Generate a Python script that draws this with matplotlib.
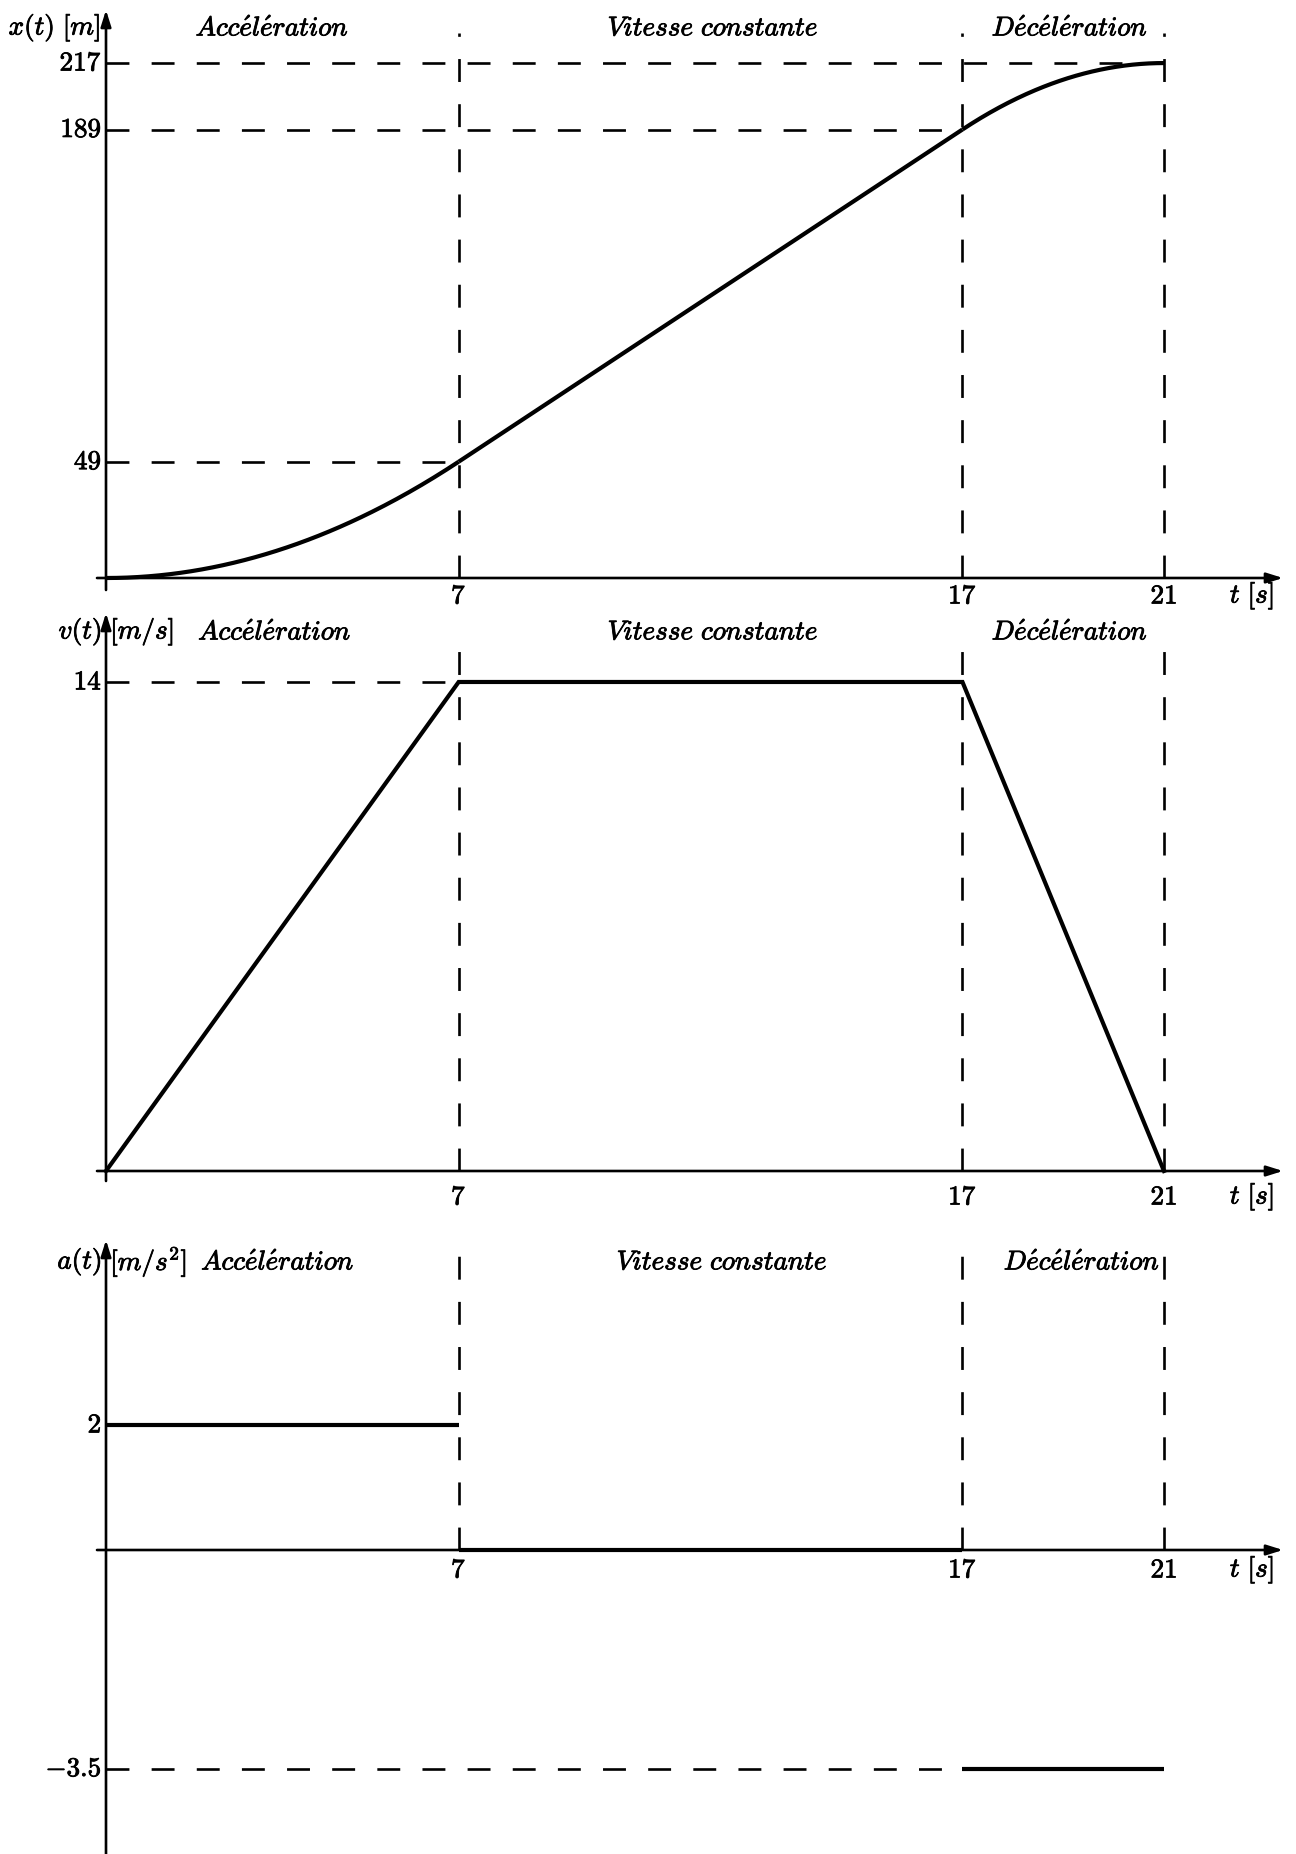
import numpy as np
import matplotlib
matplotlib.use("Agg")
import matplotlib.pyplot as plt
import matplotlib.patheffects as pe

plt.rcParams['mathtext.fontset'] = 'cm'
plt.rcParams['font.family'] = 'serif'
plt.rcParams['lines.scale_dashes'] = False

# phase boundaries [s] and the motion at each boundary
t_breaks = [0, 7, 17, 21]
x_breaks = [0, 49, 189, 217]
v_breaks = [0, 14, 14, 0]
a_phase = [2, 0, -3.5]

phase_names = [r'$\mathit{Acc\acute{e}l\acute{e}ration}$',
               r'$\mathit{Vitesse\ constante}$',
               r'$\mathit{D\acute{e}c\acute{e}l\acute{e}ration}$']
t_ticks = ['7', '17', '21']

W, H = 1296, 1854
X0, PX_T = 106, 50.38      # time axis origin and scale (pixels)

LW_AX = 1.9
LW_CURVE = 3.0
DASH = (0, (16.5, 16))
FS = 19.5
INK = [pe.withStroke(linewidth=0.6, foreground='k')]


def add_panel(top, bottom, origin, ppu):
	ax = plt.gcf().add_axes([0, 1 - bottom / H, 1, (bottom - top) / H])
	ax.set_xlim(-X0 / PX_T, (W - X0) / PX_T)
	ax.set_ylim((origin - bottom) / ppu, (origin - top) / ppu)
	ax.axis('off')
	return ax


def px_y(origin, ppu, y):
	return (origin - y) / ppu


def txt(ax, x, y, s, **kw):
	return ax.annotate(s, xy=(x, y), textcoords='offset points', fontsize=FS,
					   va='center', path_effects=INK, **kw)


def draw_axes(ax, y_lo, y_hi):
	t_lo, t_hi = -9 / PX_T, (1283 - X0) / PX_T
	arrow = dict(arrowstyle='-|>,head_length=0.7,head_width=0.22', lw=LW_AX,
				 color='k', shrinkA=0, shrinkB=0, mutation_scale=14)
	ax.annotate('', xy=(t_hi, 0), xytext=(t_lo, 0), arrowprops=arrow)
	ax.annotate('', xy=(0, y_hi), xytext=(0, y_lo), arrowprops=arrow)


def dashed(ax, xs, ys):
	ax.plot(xs, ys, color='k', lw=LW_AX, linestyle=DASH, dash_capstyle='butt')


def phase_labels(ax, y, xs):
	for name, tx in zip(phase_names, xs):
		txt(ax, tx, y, name, xytext=(0, 0), ha='center')


def time_labels(ax, y):
	for lab, tb in zip(t_ticks, t_breaks[1:]):
		txt(ax, tb, y, '$' + lab + '$', xytext=(0, 0), ha='center')
	txt(ax, (1252 - X0) / PX_T, y, r'$t\ [s]$', xytext=(0, 0), ha='center')


def y_label(ax, val, s):
	txt(ax, 0, val, '$' + s + '$', xytext=(-3, 0), ha='right')


fig = plt.figure(figsize=(W / 100, H / 100), dpi=100)

# --- position x(t) ---
o, s = 578, 2.373
ax = add_panel(0, 610, o, s)
draw_axes(ax, px_y(o, s, 590), px_y(o, s, 10))
for tb in t_breaks[1:]:
	dashed(ax, [tb, tb], [0, px_y(o, s, 33)])
for tb, xb in zip(t_breaks[1:], x_breaks[1:]):
	dashed(ax, [0, tb], [xb, xb])
	y_label(ax, xb, str(xb))
# position over each phase from constant acceleration
for i in range(3):
	tt = np.linspace(t_breaks[i], t_breaks[i + 1], 200)
	tau = tt - t_breaks[i]
	xx = x_breaks[i] + v_breaks[i] * tau + 0.5 * a_phase[i] * tau ** 2
	ax.plot(tt, xx, color='k', lw=LW_CURVE, solid_capstyle='butt')
txt(ax, 0, px_y(o, s, 28), r'$x(t)\ [m]$', xytext=(-4, 0), ha='right')
phase_labels(ax, px_y(o, s, 28), [3.3, 12.05, 19.13])
time_labels(ax, px_y(o, s, 596))

# --- velocity v(t) ---
o, s = 1171, 34.93
ax = add_panel(610, 1215, o, s)
draw_axes(ax, px_y(o, s, 1181), px_y(o, s, 613))
for tb in t_breaks[1:]:
	dashed(ax, [tb, tb], [0, px_y(o, s, 645)])
dashed(ax, [0, t_breaks[1]], [v_breaks[1], v_breaks[1]])
y_label(ax, v_breaks[1], str(v_breaks[1]))
ax.plot(t_breaks, v_breaks, color='k', lw=LW_CURVE, solid_joinstyle='miter')
txt(ax, 0, px_y(o, s, 632), r'$v(t)$', xytext=(-3, 0), ha='right')
txt(ax, 0, px_y(o, s, 632), r'$[m/s]$', xytext=(3, 0), ha='left')
phase_labels(ax, px_y(o, s, 632), [3.35, 12.05, 19.13])
time_labels(ax, px_y(o, s, 1197))

# --- acceleration a(t) ---
o, s = 1550, 62.5
ax = add_panel(1215, H, o, s)
draw_axes(ax, px_y(o, s, H + 5), px_y(o, s, 1240))
for tb in t_breaks[1:]:
	dashed(ax, [tb, tb], [0, px_y(o, s, 1250)])
dashed(ax, [0, t_breaks[2]], [a_phase[2], a_phase[2]])
y_label(ax, a_phase[0], '2')
y_label(ax, a_phase[2], '-3.5')
for i in range(3):
	ax.plot([t_breaks[i], t_breaks[i + 1]], [a_phase[i], a_phase[i]],
			color='k', lw=LW_CURVE, solid_capstyle='butt')
txt(ax, 0, px_y(o, s, 1262), r'$a(t)$', xytext=(-3, 0), ha='right')
txt(ax, 0, px_y(o, s, 1262), r'$[m/s^2]$', xytext=(3, 0), ha='left')
phase_labels(ax, px_y(o, s, 1262), [3.41, 12.23, 19.37])
time_labels(ax, px_y(o, s, 1570))

fig.savefig("out.png", dpi=100, facecolor='white')
